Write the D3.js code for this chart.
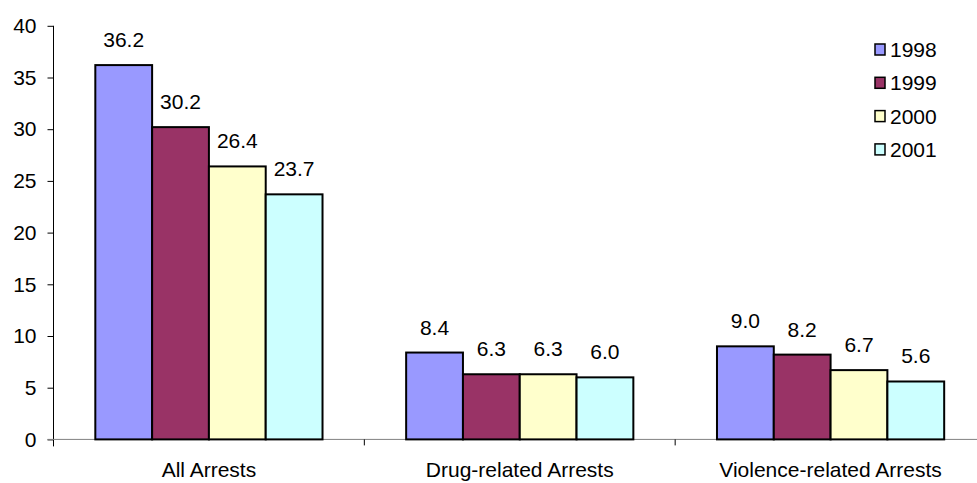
<!DOCTYPE html>
<html>
<head>
<meta charset="utf-8">
<script src="https://cdn.jsdelivr.net/npm/d3@7"></script>
<style>
  body { margin: 0; background: #fff; }
  text { font-family: "Liberation Sans", Arial, sans-serif; fill: #000; }
</style>
</head>
<body>
<div id="chart"></div>
<script>
var categories = ["All Arrests", "Drug-related Arrests", "Violence-related Arrests"];
var years = ["1998", "1999", "2000", "2001"];
var v1998 = [36.2, 8.4, 9.0];
var v1999 = [30.2, 6.3, 8.2];
var v2000 = [26.4, 6.3, 6.7];
var v2001 = [23.7, 6.0, 5.6];
var yTicks = [0, 5, 10, 15, 20, 25, 30, 35, 40];
var colors = ["#9999FF", "#993366", "#FFFFCC", "#CCFFFF"];

var series = [v1998, v1999, v2000, v2001];

var W = 977, H = 483;
var x0 = 53.5, x1 = 986, yTop = 25.8, yBot = 439.4;
var fontSize = "21px";

var svg = d3.select("#chart").append("svg")
  .attr("width", W)
  .attr("height", H);

var x = d3.scaleBand().domain(categories).range([x0, x1]);
var barW = 56.8;
var gap = (x.bandwidth() - barW * 4) / 2;

var y = d3.scaleLinear().domain([0, 40]).range([yBot, yTop]);

// y axis
var yAxis = d3.axisLeft(y).tickValues(yTicks).tickSizeInner(6).tickSizeOuter(0).tickPadding(11);
var gy = svg.append("g")
  .attr("transform", "translate(" + x0 + ",0)")
  .call(yAxis);
gy.select(".domain").attr("stroke", "#000").attr("d", "M0," + yTop + "V" + (yBot + 7));
gy.selectAll(".tick line").attr("stroke", "#000");
gy.selectAll(".tick text").style("font-size", fontSize).attr("fill", "#000");

// x axis
var xAxis = d3.axisBottom(x).tickSize(0).tickPadding(23);
var gx = svg.append("g")
  .attr("transform", "translate(0," + yBot + ")")
  .call(xAxis);
gx.select(".domain").attr("stroke", "#808080").attr("d", "M" + (x0 - 6) + ",0H" + x1);
gx.selectAll(".tick text").style("font-size", fontSize).attr("fill", "#000");

// category divider ticks
svg.append("g").selectAll("line")
  .data(categories.slice(1))
  .enter().append("line")
  .attr("x1", function(d) { return x(d); })
  .attr("x2", function(d) { return x(d); })
  .attr("y1", yBot)
  .attr("y2", yBot + 6)
  .attr("stroke", "#000");

// bars
var groups = svg.selectAll(".grp")
  .data(series)
  .enter().append("g")
  .attr("class", "grp");

function cells(s, si) {
  return s.map(function(v, ci) { return { v: v, si: si, c: categories[ci] }; });
}

groups.selectAll("rect")
  .data(cells)
  .enter().append("rect")
  .attr("x", function(d) { return x(d.c) + gap + d.si * barW; })
  .attr("y", function(d) { return y(d.v); })
  .attr("width", barW)
  .attr("height", function(d) { return yBot - y(d.v); })
  .attr("fill", function(d) { return colors[d.si]; })
  .attr("stroke", "#000")
  .attr("stroke-width", 2);

// value labels
groups.selectAll("text")
  .data(cells)
  .enter().append("text")
  .attr("x", function(d) { return x(d.c) + gap + d.si * barW + barW / 2; })
  .attr("y", function(d) { return y(d.v) - 18; })
  .attr("text-anchor", "middle")
  .style("font-size", fontSize)
  .text(function(d) { return d.v.toFixed(1); });

// legend
var legend = svg.append("g").attr("transform", "translate(875,44)");
var li = legend.selectAll("g")
  .data(years)
  .enter().append("g")
  .attr("transform", function(d, i) { return "translate(0," + (i * 33.3) + ")"; });
li.append("rect")
  .attr("width", 10)
  .attr("height", 11)
  .attr("fill", function(d, i) { return colors[i]; })
  .attr("stroke", "#000")
  .attr("stroke-width", 1.5);
li.append("text")
  .attr("x", 15)
  .attr("y", 13)
  .style("font-size", fontSize)
  .text(function(d) { return d; });
</script>
</body>
</html>
